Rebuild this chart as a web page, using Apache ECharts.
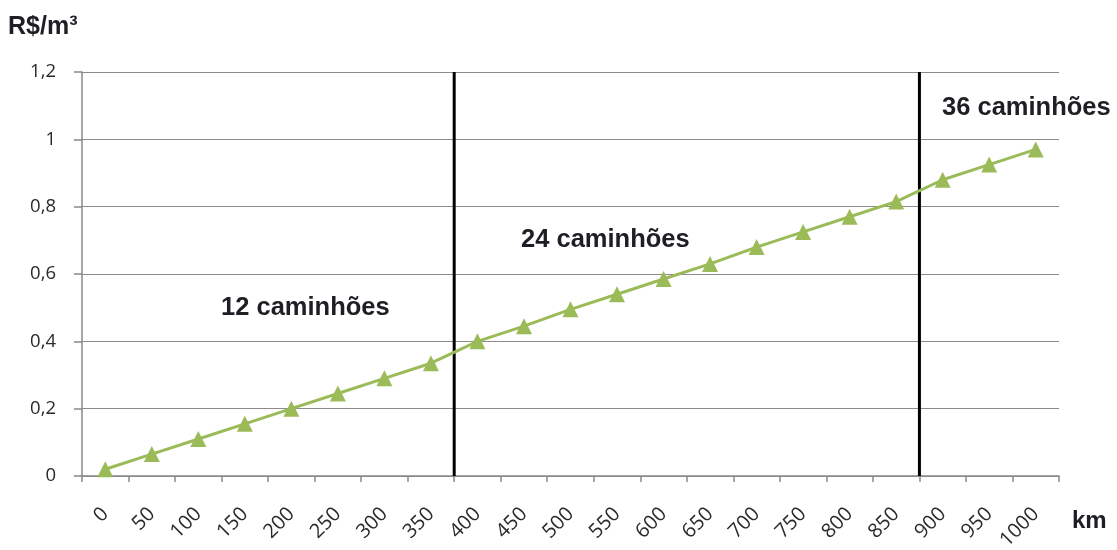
<!DOCTYPE html>
<html>
<head>
<meta charset="utf-8">
<style>
  html, body { margin: 0; padding: 0; background: #fff; }
  #chart { width: 1117px; height: 550px; }
</style>
<script src="https://cdn.jsdelivr.net/npm/echarts@6/dist/echarts.min.js"></script>
</head>
<body>
<div id="chart"></div>
<script>
// Distance classes (km)
const distances = ['0', '50', '100', '150', '200', '250', '300', '350', '400', '450', '500',
  '550', '600', '650', '700', '750', '800', '850', '900', '950', '1000'];
// Freight cost per cubic metre (R$/m³)
const costs = [0.02, 0.065, 0.11, 0.155, 0.2, 0.245, 0.29, 0.335, 0.40, 0.445, 0.495,
  0.54, 0.585, 0.63, 0.68, 0.725, 0.77, 0.815, 0.88, 0.925, 0.97];
// Fleet-size boundaries (km), drawn between distance classes
const fleetBoundaries = [375, 875];
// Fleet-size region labels
const fleetLabels = ['12 caminhões', '24 caminhões', '36 caminhões'];

const chart = echarts.init(document.getElementById('chart'));
const fmt = v => String(Math.round(v * 10) / 10).replace('.', ',');
const tickFont = size => ({ fontFamily: 'Open Sans, Liberation Sans, sans-serif', fontSize: size, color: '#2a2a2a' });
const boldFont = size => ({ fontFamily: 'Liberation Sans, Arial, sans-serif', fontSize: size, fontWeight: 'bold', fill: '#1e1e24' });

const boundarySeries = fleetBoundaries.map(km => ({
  type: 'line',
  xAxisIndex: 1,
  data: [[km, 0], [km, 1.2]],
  symbol: 'none',
  lineStyle: { color: '#000', width: 3 },
  silent: true,
  z: 3
}));

chart.setOption({
  animation: false,
  grid: { left: 82, right: 58, top: 72, bottom: 74, outerBoundsMode: 'none', containLabel: false },
  xAxis: [{
    type: 'category',
    data: distances,
    boundaryGap: true,
    axisLine: { lineStyle: { color: '#888', width: 1.5 } },
    axisTick: { show: true, length: 6, lineStyle: { color: '#888', width: 1.5 } },
    axisLabel: Object.assign({ rotate: 45, margin: 35, interval: 0 }, tickFont(20))
  }, {
    type: 'value',
    min: -25,
    max: 1025,
    show: false
  }],
  yAxis: {
    type: 'value',
    min: 0,
    max: 1.2,
    interval: 0.2,
    axisLine: { show: true, onZero: false, lineStyle: { color: '#888', width: 1.5 } },
    axisTick: { show: true, inside: false, length: 8, lineStyle: { color: '#888', width: 1.5 } },
    splitLine: { lineStyle: { color: '#8c8c8c', width: 1.2 } },
    axisLabel: Object.assign({ margin: 26, formatter: fmt }, tickFont(18.5))
  },
  series: [{
    type: 'line',
    data: costs,
    symbol: 'triangle',
    symbolSize: 16,
    itemStyle: { color: '#9bbb59' },
    lineStyle: { color: '#9bbb59', width: 3 },
    z: 4
  }].concat(boundarySeries),
  graphic: [
    { type: 'text', left: 8, top: 15, style: Object.assign({ text: 'R$/m³' }, boldFont(25)) },
    { type: 'text', left: 1072, top: 509, style: Object.assign({ text: 'km' }, boldFont(24)) },
    { type: 'text', left: 221, top: 295, style: Object.assign({ text: fleetLabels[0] }, boldFont(25.5)) },
    { type: 'text', left: 521, top: 227, style: Object.assign({ text: fleetLabels[1] }, boldFont(25.5)) },
    { type: 'text', left: 942, top: 95, style: Object.assign({ text: fleetLabels[2] }, boldFont(25.5)) }
  ]
});
</script>
</body>
</html>
